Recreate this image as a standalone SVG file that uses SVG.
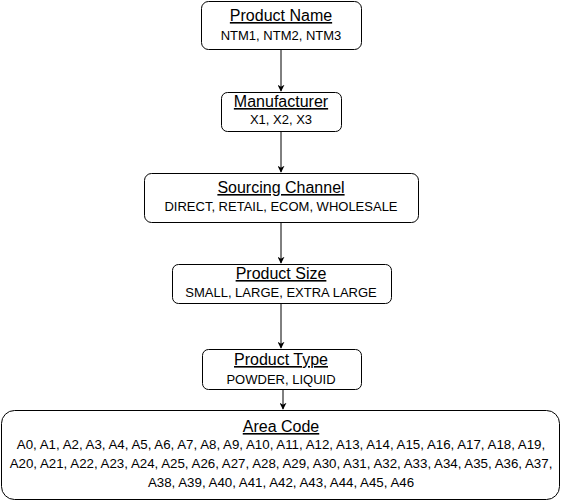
<svg xmlns="http://www.w3.org/2000/svg" width="561" height="501" viewBox="0 0 561 501">
  <style>
    .box { fill: #ffffff; stroke: #000000; stroke-width: 1; }
    .title { font-family: "Liberation Sans", Arial, sans-serif; font-size: 16px; text-anchor: middle; text-decoration: underline; fill: #000000; }
    .sub { font-family: "Liberation Sans", Arial, sans-serif; font-size: 13px; text-anchor: middle; fill: #000000; }
    .codes { font-size: 13.3px; }
    .edge { stroke: #000000; stroke-width: 1; fill: none; }
  </style>
  <defs>
    <marker id="arrow" viewBox="0 0 10 10" refX="9" refY="5" markerWidth="7" markerHeight="7" orient="auto" markerUnits="userSpaceOnUse">
      <path d="M0,0 L10,5 L0,10 L3,5 Z" fill="#000000"/>
    </marker>
  </defs>
  <rect width="561" height="501" fill="#ffffff"/>

  <g id="connectors">
    <line class="edge" x1="281" y1="49.5" x2="281" y2="91" marker-end="url(#arrow)"/>
    <line class="edge" x1="281" y1="131.5" x2="281" y2="172" marker-end="url(#arrow)"/>
    <line class="edge" x1="281" y1="222.5" x2="281" y2="263" marker-end="url(#arrow)"/>
    <line class="edge" x1="281" y1="303.5" x2="281" y2="348" marker-end="url(#arrow)"/>
    <line class="edge" x1="283" y1="389.5" x2="283" y2="409" marker-end="url(#arrow)"/>
  </g>

  <g id="product-name">
    <rect class="box" x="201.5" y="1.5" width="160" height="48" rx="7"/>
    <text class="title" x="281" y="21">Product Name</text>
    <text class="sub" x="281" y="40">NTM1, NTM2, NTM3</text>
  </g>

  <g id="manufacturer">
    <rect class="box" x="221.5" y="92.5" width="120" height="39" rx="6"/>
    <text class="title" x="281" y="107">Manufacturer</text>
    <text class="sub" x="281" y="124">X1, X2, X3</text>
  </g>

  <g id="sourcing-channel">
    <rect class="box" x="144.5" y="173.5" width="274" height="49" rx="7"/>
    <text class="title" x="281" y="193">Sourcing Channel</text>
    <text class="sub" x="281" y="211">DIRECT, RETAIL, ECOM, WHOLESALE</text>
  </g>

  <g id="product-size">
    <rect class="box" x="172.5" y="264.5" width="219" height="39" rx="6"/>
    <text class="title" x="281" y="279">Product Size</text>
    <text class="sub" x="281" y="297">SMALL, LARGE, EXTRA LARGE</text>
  </g>

  <g id="product-type">
    <rect class="box" x="202.5" y="349.5" width="159" height="40" rx="6"/>
    <text class="title" x="281" y="365">Product Type</text>
    <text class="sub" x="281" y="384">POWDER, LIQUID</text>
  </g>

  <g id="area-code">
    <rect class="box" x="1.5" y="410.5" width="558" height="89" rx="13"/>
    <text class="title" x="281" y="432">Area Code</text>
    <text class="sub codes" x="281" y="449">A0, A1, A2, A3, A4, A5, A6, A7, A8, A9, A10, A11, A12, A13, A14, A15, A16, A17, A18, A19,</text>
    <text class="sub codes" x="281" y="468">A20, A21, A22, A23, A24, A25, A26, A27, A28, A29, A30, A31, A32, A33, A34, A35, A36, A37,</text>
    <text class="sub codes" x="281" y="487">A38, A39, A40, A41, A42, A43, A44, A45, A46</text>
  </g>
</svg>
